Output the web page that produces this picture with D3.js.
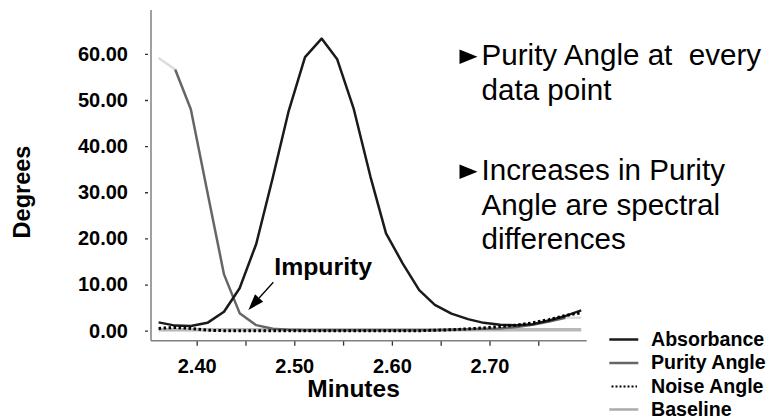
<!DOCTYPE html>
<html>
<head>
<meta charset="utf-8">
<script src="https://cdn.jsdelivr.net/npm/d3@7"></script>
<style>
  html, body { margin: 0; padding: 0; background: #fff; }
  svg { display: block; }
  text { font-family: "Liberation Sans", Arial, Helvetica, sans-serif; }
</style>
</head>
<body>
<svg id="chart" width="776" height="420"></svg>
<script>
// ---- Data ----
const times = [2.361, 2.378, 2.394, 2.411, 2.428, 2.444, 2.461, 2.478, 2.494, 2.511,
               2.528, 2.544, 2.561, 2.578, 2.594, 2.611, 2.628, 2.644, 2.661, 2.678,
               2.694, 2.711, 2.728, 2.744, 2.761, 2.778, 2.794];
const absorbance = [1.8, 1.1, 1.0, 1.7, 4.1, 9.2, 18.8, 33.2, 47.4, 59.3,
                    63.3, 58.8, 48.0, 33.4, 21.1, 14.6, 8.8, 5.6, 3.7, 2.5,
                    1.7, 1.3, 1.2, 1.4, 2.2, 3.2, 4.4];
const purityAngle = [59.1, 56.6, 48.0, 30.0, 12.2, 3.8, 1.2, 0.4, 0.2, 0.1,
                     0.1, 0.1, 0.1, 0.1, 0.1, 0.1, 0.1, 0.1, 0.2, 0.3,
                     0.4, 0.5, 0.8, 1.3, 2.0, 2.8, 2.8];
const noiseAngle = [0.5, 0.7, 0.5, 0.1, 0.0, 0.0, 0.0, 0.0, 0.0, 0.0,
                    0.0, 0.0, 0.0, 0.0, 0.0, 0.0, 0.0, 0.1, 0.2, 0.4,
                    0.6, 0.9, 1.2, 1.7, 2.4, 3.3, 3.9];
const baseline = [0.2, 0.2, 0.2, 0.2, 0.2, 0.2, 0.2, 0.2, 0.2, 0.2,
                  0.2, 0.2, 0.2, 0.2, 0.2, 0.2, 0.2, 0.2, 0.2, 0.2,
                  0.2, 0.2, 0.2, 0.2, 0.2, 0.2, 0.2];

const xTickValues = [2.40, 2.45, 2.50, 2.55, 2.60, 2.65, 2.70, 2.75];
const xTickLabels = ["2.40", "", "2.50", "", "2.60", "", "2.70", ""];
const yTickValues = [0, 10, 20, 30, 40, 50, 60];

const seriesNames = ["Absorbance", "Purity Angle", "Noise Angle", "Baseline"];
const bulletLines = [["Purity Angle at  every", "data point"],
                     ["Increases in Purity", "Angle are spectral", "differences"]];
const annotation = "Impurity";

// ---- Layout ----
const svg = d3.select("#chart");
const x = d3.scaleLinear().domain([2.3532, 2.7996]).range([151, 586.7]);
const y = d3.scaleLinear().domain([-2.17, 69.5]).range([340.7, 10]);

// Axes
const yAxis = d3.axisLeft(y).tickValues(yTickValues).tickFormat(d3.format(".2f"))
  .tickSizeInner(6).tickSizeOuter(0).tickPadding(17);
const gy = svg.append("g").attr("transform", "translate(151,0)").call(yAxis);
gy.select(".domain").remove();
gy.selectAll(".tick line").attr("stroke", "#333").attr("stroke-width", 1.3)
  .attr("stroke-dasharray", "0 3 3");
gy.selectAll(".tick text").attr("font-size", 20).attr("font-weight", "bold")
  .attr("fill", "#000");

const xAxis = d3.axisBottom(x).tickValues(xTickValues)
  .tickFormat((d, i) => xTickLabels[i]).tickSizeInner(5).tickSizeOuter(0).tickPadding(13.4);
const gx = svg.append("g").attr("transform", "translate(0,340.7)").call(xAxis);
gx.select(".domain").remove();
gx.selectAll(".tick line").attr("stroke", "#333").attr("stroke-width", 1.3);
gx.selectAll(".tick text").attr("font-size", 20).attr("font-weight", "bold")
  .attr("fill", "#000");

// axis lines
svg.append("line").attr("x1", 151).attr("x2", 151).attr("y1", y.range()[1]).attr("y2", y.range()[0])
  .attr("stroke", "#808080").attr("stroke-width", 1.5);
svg.append("line").attr("x1", 151).attr("x2", x.range()[1]).attr("y1", 340.7).attr("y2", 340.7)
  .attr("stroke", "#808080").attr("stroke-width", 1.5);

// Axis titles
svg.append("text").attr("x", 353.5).attr("y", 396.5).attr("text-anchor", "middle")
  .attr("font-size", 24.5).attr("font-weight", "bold").text("Minutes");
svg.append("text").attr("transform", "translate(30,192) rotate(-90)").attr("text-anchor", "middle")
  .attr("font-size", 23.5).attr("font-weight", "bold").text("Degrees");

// ---- Series ----
const pts = arr => arr.map((v, i) => [times[i], v]);
const line = d3.line().x(d => x(d[0])).y(d => y(d[1]));

svg.append("path").attr("d", line(pts(baseline))).attr("fill", "none")
  .attr("stroke", "#b8b8b8").attr("stroke-width", 3.5);

const pur = pts(purityAngle);
svg.append("path").attr("d", line(pur.slice(0, 2))).attr("fill", "none")
  .attr("stroke", "#dcdcdc").attr("stroke-width", 2.5);
svg.append("path").attr("d", line(pur.slice(1, pur.length - 1))).attr("fill", "none")
  .attr("stroke", "#666").attr("stroke-width", 2.5).attr("stroke-linejoin", "round");
svg.append("path").attr("d", line(pur.slice(pur.length - 2))).attr("fill", "none")
  .attr("stroke", "#dcdcdc").attr("stroke-width", 2.5);

svg.append("path").attr("d", line(pts(absorbance))).attr("fill", "none")
  .attr("stroke", "#1a1a1a").attr("stroke-width", 2.5).attr("stroke-linejoin", "round");

svg.append("path").attr("d", line(pts(noiseAngle))).attr("fill", "none")
  .attr("stroke", "#000").attr("stroke-width", 3).attr("stroke-dasharray", "2.5 2.5");

// ---- Impurity annotation ----
const tip = [x(2.453), y(4.5)];
const tail = [x(2.4785), y(10.5)];
const dx = tip[0] - tail[0], dy = tip[1] - tail[1];
const len = Math.hypot(dx, dy), ux = dx / len, uy = dy / len;
const hl = 16, hw = 5.5;
const bx = tip[0] - hl * ux, by = tip[1] - hl * uy;
svg.append("line").attr("x1", tail[0]).attr("y1", tail[1]).attr("x2", bx).attr("y2", by)
  .attr("stroke", "#000").attr("stroke-width", 1.3);
svg.append("path").attr("d", `M${tip[0]},${tip[1]} L${bx - hw * uy},${by + hw * ux} L${bx + hw * uy},${by - hw * ux} Z`)
  .attr("fill", "#000");
svg.append("text").attr("x", x(2.4795)).attr("y", y(12.06)).attr("font-size", 24.8)
  .attr("font-weight", "bold").text(annotation);

// ---- Bullet text ----
const blockTops = [65, 180];
const lineGap = 34.5;
bulletLines.forEach((lines, bi) => {
  const by0 = blockTops[bi];
  svg.append("path").attr("d", `M459.5,${by0 - 15.5} L477.5,${by0 - 8.3} L459.5,${by0 - 1} Z`).attr("fill", "#000");
  lines.forEach((t, li) => {
    svg.append("text").attr("x", 481.5).attr("y", by0 + li * lineGap)
      .attr("font-size", 29.6).attr("fill", "#000").style("white-space", "pre").text(t);
  });
});

// ---- Legend ----
const legY = [339.5, 363, 386.5, 409.5];
const legStyles = [
  {stroke: "#1a1a1a", dash: null, w: 2.5},
  {stroke: "#666", dash: null, w: 2.5},
  {stroke: "#000", dash: "2 2", w: 2},
  {stroke: "#aaa", dash: null, w: 2.5}
];
seriesNames.forEach((name, i) => {
  const s = legStyles[i];
  const l = svg.append("line").attr("x1", 609.3).attr("x2", 638.3).attr("y1", legY[i]).attr("y2", legY[i])
    .attr("stroke", s.stroke).attr("stroke-width", s.w);
  if (s.dash) l.attr("stroke-dasharray", s.dash).attr("x1", 611.5).attr("x2", 637);
  svg.append("text").attr("x", 651).attr("y", legY[i] + 6.3).attr("font-size", 19.6)
    .attr("font-weight", "bold").text(name);
});
</script>
</body>
</html>
